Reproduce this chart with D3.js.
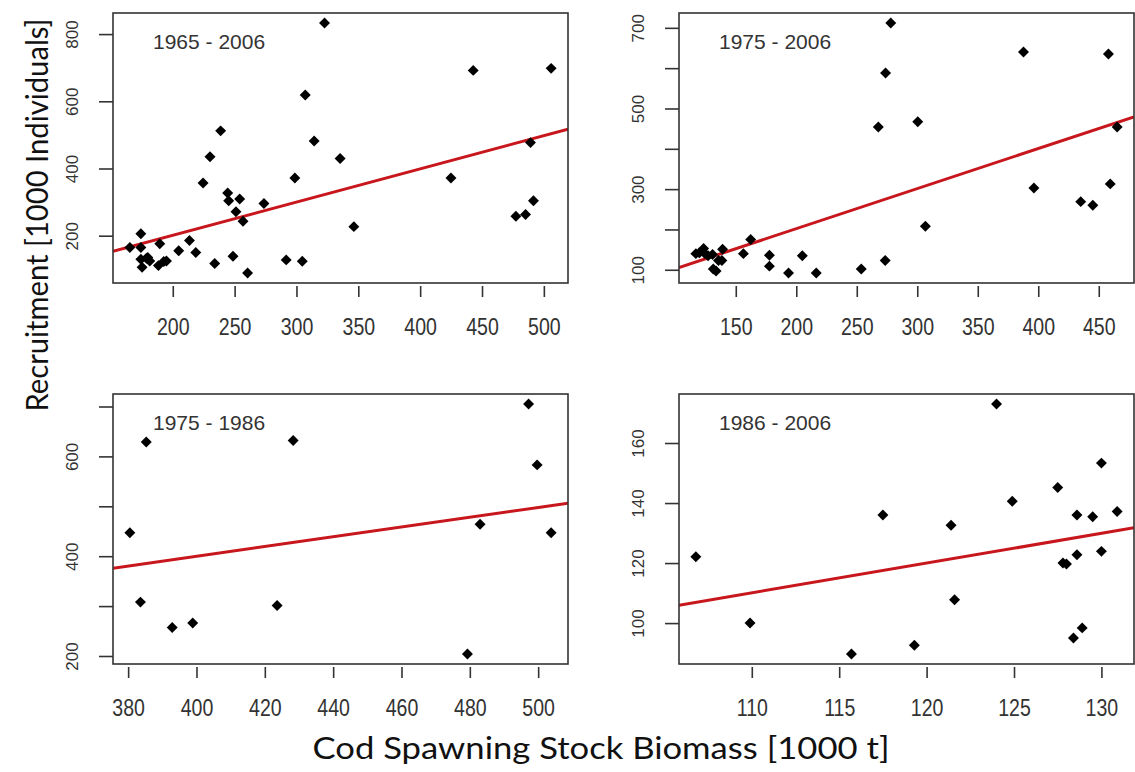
<!DOCTYPE html>
<html>
<head>
<meta charset="utf-8">
<script src="https://cdn.jsdelivr.net/npm/d3@7"></script>
<style>
  body { margin: 0; background: #fff; }
  .tick-x text { font-family: "Liberation Sans", Arial, sans-serif; font-size: 23px; fill: #333; }
  .tick-y text { font-family: "Liberation Sans", Arial, sans-serif; font-size: 17px; fill: #333; }
  .panel-label { font-family: "Liberation Sans", Arial, sans-serif; font-size: 21px; fill: #333; }
  .axis-title { font-family: "Lato", "Open Sans", sans-serif; font-size: 30px; fill: #111; }
</style>
</head>
<body>
<svg id="chart" width="1135" height="772"></svg>
<script>
// cod spawning stock biomass (x) vs recruitment (y), one pair of arrays per period
var PANEL_LABELS = ['1965 - 2006', '1975 - 2006', '1975 - 1986', '1986 - 2006'];

var ssb6506 = [165.3, 174.2, 174.2, 174.2, 175.2, 178.7, 179.8, 181.4, 189.5, 188.4, 192.7, 194.9, 204.8, 213.5,
    218.6, 224.5, 230.1, 233.9, 238.7, 244.4, 245.2, 248.7, 251.1, 254.1, 256.8, 260.5, 273.7, 291.7, 298.7,
    304.7, 307.1, 314.3, 322.7, 335.3, 346.4, 424.9, 442.9, 477.4, 485.2, 489.2, 491.6, 505.9];
var rec6506 = [165, 206, 165, 130, 106, 133, 135, 125, 176, 111, 123, 125, 155, 186,
    150, 357, 435, 117, 512, 327, 304, 139, 271, 309, 243, 89, 296, 128, 372,
    124, 619, 482, 833, 430, 227, 372, 692, 258, 263, 477, 304, 698];

var ssb7506 = [117, 119.9, 123.4, 124.2, 127.1, 130.8, 131.4, 133.7, 135.7, 138.5, 139.1, 156.3, 162.3, 177.8,
    177.8, 193.6, 205, 216.5, 253.7, 267.8, 273.5, 273.8, 278.1, 300.4, 306.7, 387.8, 396.4, 435.1, 445.1,
    458, 459.5, 465.2];
var rec7506 = [140, 142, 153, 141, 135, 138, 102, 97, 123, 123, 151, 140, 175, 136,
    109, 92, 135, 92, 102, 454, 123, 588, 712, 467, 208, 640, 303, 269, 260,
    635, 313, 454];

var ssb7586 = [380.5, 383.6, 385.3, 392.9, 398.9, 423.6, 428.3, 479.3, 483, 497.2, 499.7, 503.8];
var rec7586 = [447, 308, 629, 257, 266, 301, 632, 204, 464, 705, 583, 447];

var ssb8606 = [106.8, 109.9, 115.7, 117.5, 119.3, 121.4, 121.6, 124, 124.9, 127.5, 127.8, 128, 128.4, 128.6,
    128.6, 128.9, 129.5, 130, 130, 130.9];
var rec8606 = [122.1, 100, 89.7, 136, 92.6, 132.6, 107.8, 173, 140.6, 145.2, 120, 119.7, 95, 136,
    122.8, 98.4, 135.4, 153.3, 123.9, 137.2];

// fitted linear regression
var fitIntercept = [3.4, 3.15, 8.75, 1.2];
var fitSlope = [0.989, 0.9937, 0.9775, 0.99];

var xTicks = [[200, 250, 300, 350, 400, 450, 500], [150, 200, 250, 300, 350, 400, 450],
    [380, 400, 420, 440, 460, 480, 500], [110, 115, 120, 125, 130]];
var yTicks = [[200, 400, 600, 800], [100, 200, 300, 400, 500, 600, 700],
    [200, 300, 400, 500, 600, 700], [100, 120, 140, 160]];
// R drops the labels that would overlap
var yTickLabels = [[200, 400, 600, 800], [100, 300, 500, 700], [200, 400, 600], [100, 120, 140, 160]];

var panels = [
    {x: ssb6506, y: rec6506},
    {x: ssb7506, y: rec7506},
    {x: ssb7586, y: rec7586},
    {x: ssb8606, y: rec8606}
];

var colLeft = [113, 679];
var rowTop = [13, 394];
var plotW = 455;
var plotH = 270;

var svg = d3.select('#chart');

// pch 18 style diamond
var diamond = {
    draw: function (ctx, size) {
        var r = Math.sqrt(size / 2);
        ctx.moveTo(0, -r);
        ctx.lineTo(r, 0);
        ctx.lineTo(0, r);
        ctx.lineTo(-r, 0);
        ctx.closePath();
    }
};

// R default axis range: data extent padded by 4%
function rDomain(vals) {
    var ext = d3.extent(vals);
    var pad = (ext[1] - ext[0]) * 0.04;
    return [ext[0] - pad, ext[1] + pad];
}

panels.forEach(function (p, i) {
    var left = colLeft[i % 2];
    var top = rowTop[Math.floor(i / 2)];
    var pts = p.x.map((d, j) => ({x: d, y: p.y[j]}));

    var x = d3.scaleLinear().domain(rDomain(p.x)).range([0, plotW]);
    var y = d3.scaleLinear().domain(rDomain(p.y)).range([plotH, 0]);

    var g = svg.append('g')
        .attr('transform', `translate(${left},${top})`);

    g.append('clipPath')
        .attr('id', 'clip' + i)
        .append('rect')
        .attr('width', plotW)
        .attr('height', plotH);

    // x axis (ticks sit a little below the box like in R)
    var xAxis = g.append('g')
        .attr('class', 'tick-x')
        .attr('transform', `translate(0,${plotH + 3})`)
        .call(d3.axisBottom(x).tickValues(xTicks[i]).tickSize(11).tickPadding(22).tickFormat(d3.format('d')));
    xAxis.select('.domain').remove();
    xAxis.selectAll('line').attr('stroke', '#333').attr('stroke-width', 1.6);
    xAxis.selectAll('text')
        .attr('fill', '#333')
        .attr('transform', 'scale(0.85,1)');

    // y axis, labels rotated parallel to the axis
    var yAxis = g.append('g')
        .attr('class', 'tick-y')
        .call(d3.axisLeft(y).tickValues(yTicks[i]).tickSize(14)
            .tickFormat((d) => yTickLabels[i].indexOf(d) >= 0 ? d : ''));
    yAxis.select('.domain').remove();
    yAxis.selectAll('line').attr('stroke', '#333').attr('stroke-width', 1.6);
    yAxis.selectAll('text')
        .attr('fill', '#333')
        .attr('text-anchor', 'middle')
        .attr('transform', 'rotate(-90)')
        .attr('x', 0)
        .attr('y', -41)
        .attr('dy', '0.36em');

    // regression line
    var xd = x.domain();
    var fit = xd.map((d) => ({x: d, y: fitIntercept[i] + fitSlope[i] * d}));
    g.append('path')
        .datum(fit)
        .attr('clip-path', `url(#clip${i})`)
        .attr('fill', 'none')
        .attr('stroke', '#c8161d')
        .attr('stroke-width', 3)
        .attr('d', d3.line().x((d) => x(d.x)).y((d) => y(d.y)));

    g.selectAll('.pt')
        .data(pts)
        .enter()
        .append('path')
        .attr('class', 'pt')
        .attr('transform', (d) => `translate(${x(d.x)},${y(d.y)})`)
        .attr('d', d3.symbol().type(diamond).size(60))
        .attr('fill', '#000');

    g.append('rect')
        .attr('width', plotW)
        .attr('height', plotH)
        .attr('fill', 'none')
        .attr('stroke', '#333')
        .attr('stroke-width', 1.6);

    g.append('text')
        .attr('class', 'panel-label')
        .attr('x', 40)
        .attr('y', 28)
        .attr('dy', '0.36em')
        .text(PANEL_LABELS[i]);
});

svg.append('text')
    .attr('class', 'axis-title')
    .attr('text-anchor', 'middle')
    .attr('transform', 'translate(48,215)rotate(-90)')
    .attr('textLength', 393)
    .attr('lengthAdjust', 'spacingAndGlyphs')
    .text('Recruitment [1000 Individuals]');

svg.append('text')
    .attr('class', 'axis-title')
    .attr('text-anchor', 'middle')
    .attr('x', 601)
    .attr('y', 759)
    .attr('textLength', 577)
    .attr('lengthAdjust', 'spacingAndGlyphs')
    .text('Cod Spawning Stock Biomass [1000 t]');
</script>
</body>
</html>
